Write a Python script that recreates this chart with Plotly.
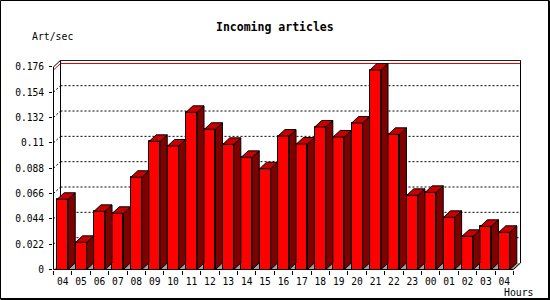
import plotly.graph_objects as go

# ---------------- data ----------------
hours = ["04", "05", "06", "07", "08", "09", "10", "11", "12", "13", "14", "15",
         "16", "17", "18", "19", "20", "21", "22", "23", "00", "01", "02", "03", "04"]
rate = [0.0610, 0.0236, 0.0505, 0.0488, 0.0801, 0.1113, 0.1073, 0.1365, 0.1218,
        0.1087, 0.0974, 0.0875, 0.1159, 0.1090, 0.1238, 0.1151, 0.1272, 0.1733,
        0.1174, 0.0644, 0.0670, 0.0453, 0.0288, 0.0375, 0.0323]
y_ticks = [0, 0.022, 0.044, 0.066, 0.088, 0.11, 0.132, 0.154, 0.176]
y_tick_labels = ["0", "0.022", "0.044", "0.066", "0.088", "0.11", "0.132", "0.154", "0.176"]

# ---------------- geometry ----------------
W, H = 550, 300
L, R, T, B = 53, 29, 60, 30
PW, PH = W - L - R, H - T - B
CAT_PX = 18.4            # pixels per category
FRONT_X0 = 53.5          # pixel of front y-axis
UNIT_PX = 25.33 / 0.022  # pixels per unit value
FRONT_Y0 = 269.5         # pixel of front x-axis
DEPTH_X, DEPTH_Y = 7.0, 6.5

xmin = -0.5 - (FRONT_X0 - L) / CAT_PX
xmax = xmin + PW / CAT_PX
ymin = -((T + PH) - FRONT_Y0) / UNIT_PX
ymax = ymin + PH / UNIT_PX
dx = DEPTH_X / CAT_PX
dy = DEPTH_Y / UNIT_PX
BW = 0.6  # bar width (categories)

n = len(rate)
xs = list(range(n))
x_left, x_right = -0.5, n - 0.5
ytop = y_ticks[-1]

def px(p):
    return (p - L) / PW

def py(p):
    return (T + PH - p) / PH

FONT = "DejaVu Sans Mono"
RED, TOP, SIDE = "#ff0000", "#c80000", "#800000"

shapes = []
def line(x0, y0, x1, y1, color="black", dash="solid", width=1):
    shapes.append(dict(type="line", xref="x", yref="y", x0=x0, y0=y0, x1=x1, y1=y1,
                       layer="below", line=dict(color=color, width=width, dash=dash)))

# floor
shapes.append(dict(type="path", xref="x", yref="y", layer="below",
                   path=f"M{x_left},0 L{x_right},0 L{x_right+dx},{dy} L{x_left+dx},{dy} Z",
                   fillcolor="#a0a0a0", line=dict(width=0)))
# grid lines on back wall + left wall diagonals
for v in y_ticks[1:-1]:
    line(x_left + dx, v + dy, x_right + dx, v + dy, dash="2px,2px")
    line(x_left, v, x_left + dx, v + dy, dash="2px,2px")
# max line (red)
vmax = max(rate)
line(x_left + dx, vmax + dy, x_right + dx, vmax + dy, color="#e00000")
line(x_left, vmax, x_left + dx, vmax + dy, color="#e00000")
# back wall frame
line(x_left + dx, ytop + dy, x_right + dx, ytop + dy)
line(x_left, ytop, x_left + dx, ytop + dy)
line(x_left + dx, dy, x_left + dx, ytop + dy)
line(x_right + dx, dy, x_right + dx, ytop + dy)
line(x_right, 0, x_right + dx, dy)
# front axes
line(x_left, 0, x_left, ytop)
line(x_left, 0, x_right, 0)

# outer image frame (paper coords)
def pline(x0, y0, x1, y1):
    shapes.append(dict(type="line", xref="paper", yref="paper", x0=px(x0), y0=py(y0),
                       x1=px(x1), y1=py(y1), layer="above", line=dict(color="black", width=1)))
pline(0.5, 0.5, 549.5, 0.5)
pline(0.5, 0.5, 0.5, 299.5)
pline(548.5, 0.5, 548.5, 299.5)
pline(549.5, 1, 549.5, 300)
pline(0.5, 298.5, 549.5, 298.5)
pline(1, 299.5, 550, 299.5)

# ---------------- traces ----------------
fig = go.Figure()
fig.add_trace(go.Bar(x=xs, y=rate, width=BW, marker=dict(color=RED, line=dict(color="black", width=1)),
                     hoverinfo="skip", showlegend=False))

side_x, side_y, top_x, top_y = [], [], [], []
for i, v in zip(xs, rate):
    a, b = i - BW / 2, i + BW / 2
    side_x += [b, b + dx, b + dx, b, b, None]
    side_y += [0, dy, v + dy, v, 0, None]
    top_x += [a, b, b + dx, a + dx, a, None]
    top_y += [v, v, v + dy, v + dy, v, None]

fig.add_trace(go.Scatter(x=side_x, y=side_y, mode="lines", fill="toself", fillcolor=SIDE,
                         line=dict(color="black", width=1), hoverinfo="skip", showlegend=False))
fig.add_trace(go.Scatter(x=top_x, y=top_y, mode="lines", fill="toself", fillcolor=TOP,
                         line=dict(color="black", width=1), hoverinfo="skip", showlegend=False))

annotations = [
    dict(text="Incoming articles", x=px(275), y=py(27), xref="paper", yref="paper",
         showarrow=False, xanchor="center", yanchor="middle",
         font=dict(family=FONT, size=11.5, color="black", weight="bold")),
    dict(text="Art/sec", x=px(30), y=py(37), xref="paper", yref="paper",
         showarrow=False, xanchor="left", yanchor="middle",
         font=dict(family=FONT, size=9.8, color="black")),
    dict(text="Hours", x=px(519), y=py(292), xref="paper", yref="paper",
         showarrow=False, xanchor="center", yanchor="middle",
         font=dict(family=FONT, size=9.8, color="black")),
]

fig.update_layout(
    width=W, height=H, margin=dict(l=L, r=R, t=T, b=B, pad=0),
    paper_bgcolor="white", plot_bgcolor="white",
    shapes=shapes, annotations=annotations, showlegend=False, bargap=0,
    xaxis=dict(range=[xmin, xmax], showgrid=False, zeroline=False, showline=False,
               tickmode="array", tickvals=xs, ticktext=hours, ticks="",
               tickfont=dict(family=FONT, size=9.6, color="black"), ticklabelstandoff=4,
               minor=dict(tickmode="array", tickvals=[i - 0.5 for i in range(n + 1)],
                          ticks="outside", ticklen=4, tickcolor="black", tickwidth=1, showgrid=False)),
    yaxis=dict(range=[ymin, ymax], showgrid=False, zeroline=False, showline=False,
               tickmode="array", tickvals=y_ticks, ticktext=y_tick_labels,
               ticks="outside", ticklen=3, tickcolor="black", tickwidth=1,
               tickfont=dict(family=FONT, size=9.6, color="black"), ticklabelstandoff=3),
)

fig.write_html("out.html")
